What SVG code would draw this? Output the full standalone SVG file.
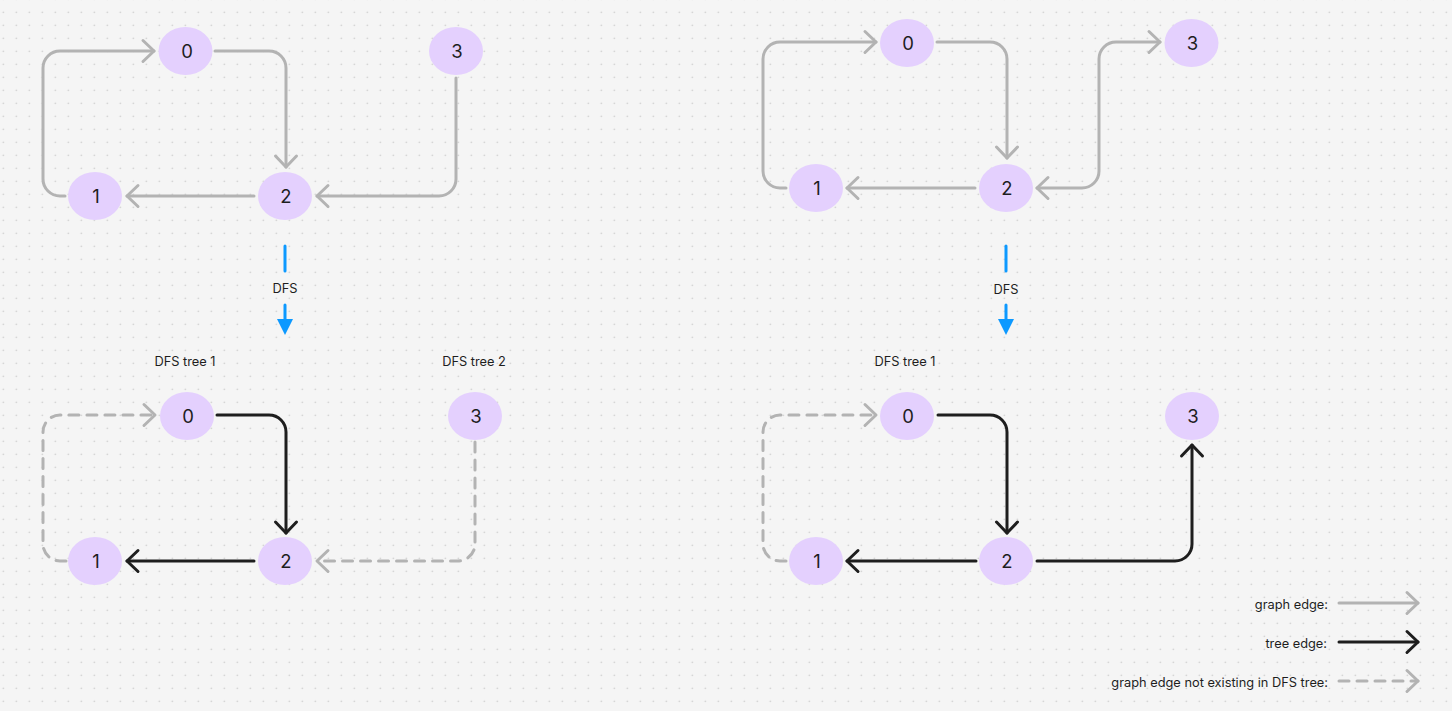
<svg xmlns="http://www.w3.org/2000/svg" width="1452" height="711" viewBox="0 0 1452 711">
<style>
.bg{fill:#f5f5f5}
.node ellipse{fill:#e4d0fe}
.node text{font-family:Inter,"Liberation Sans",sans-serif;font-size:18.5px;fill:#1e1e1e;text-anchor:middle}
.lbl{font-family:Inter,"Liberation Sans",sans-serif;font-size:12.8px;fill:#1e1e1e}
.e{fill:none;stroke-width:3;stroke-linecap:round;stroke-linejoin:round}
.g{stroke:#b3b3b3;marker-end:url(#ag)}
.k{stroke:#1e1e1e;marker-end:url(#ak)}
.d{stroke:#b3b3b3;stroke-dasharray:10 8;marker-end:url(#ag)}
.b{stroke:#0d99ff}
</style>
<defs>
<pattern id="dots" patternUnits="userSpaceOnUse" x="-3.2" y="5.8" width="13" height="13">
<circle cx="6.5" cy="6.5" r="0.8" fill="#c9c9c9"/>
</pattern>
<marker id="ag" markerUnits="userSpaceOnUse" orient="auto-start-reverse" refX="0" refY="0" markerWidth="30" markerHeight="30" viewBox="-15 -15 30 30" overflow="visible">
<path d="M-11,-10.5 L0,0 L-11,10.5" fill="none" stroke="#b3b3b3" stroke-width="3" stroke-linecap="round" stroke-linejoin="round"/>
</marker>
<marker id="ak" markerUnits="userSpaceOnUse" orient="auto" refX="0" refY="0" markerWidth="30" markerHeight="30" viewBox="-15 -15 30 30" overflow="visible">
<path d="M-11,-10.5 L0,0 L-11,10.5" fill="none" stroke="#1e1e1e" stroke-width="3" stroke-linecap="round" stroke-linejoin="round"/>
</marker>
</defs>
<rect class="bg" width="1452" height="711"/>
<rect width="1452" height="711" fill="url(#dots)"/>

<g id="connectors">
<!-- top left graph -->
<path class="e g" d="M215,51 H269 A17,17 0 0 1 286,68 V167"/>
<path class="e g" d="M254,196 H127"/>
<path class="e g" d="M65,196 H60 A17,17 0 0 1 43,179 V68 A17,17 0 0 1 60,51 H154"/>
<path class="e g" d="M456,78 V179 A17,17 0 0 1 439,196 H317"/>
<!-- bottom left tree -->
<path class="e k" d="M217,415 H269 A17,17 0 0 1 286,432 V533"/>
<path class="e k" d="M254,561 H127"/>
<path class="e d" d="M66,561 H60 A17,17 0 0 1 43,544 V432 A17,17 0 0 1 60,415 H155"/>
<path class="e d" d="M475,442 V544 A17,17 0 0 1 458,561 H317"/>
<!-- top right graph -->
<path class="e g" d="M786,188 H780 A17,17 0 0 1 763,171 V59 A17,17 0 0 1 780,42 H876"/>
<path class="e g" d="M937,42 H990 A17,17 0 0 1 1007,59 V158"/>
<path class="e g" d="M975,188 H847"/>
<path class="e g" style="marker-start:url(#ag)" d="M1037,188 H1082 A17,17 0 0 0 1099,171 V59 A17,17 0 0 1 1116,42 H1160"/>
<!-- bottom right tree -->
<path class="e d" d="M786,561 H780 A17,17 0 0 1 763,544 V432 A17,17 0 0 1 780,415 H876"/>
<path class="e k" d="M938,415 H990 A17,17 0 0 1 1007,432 V533"/>
<path class="e k" d="M976,561 H847"/>
<path class="e k" d="M1037,561 H1175 A17,17 0 0 0 1192,544 V445"/>
<!-- DFS arrows -->
<path class="e b" d="M285,246 V271"/>
<path class="e b" d="M285,305 V322"/>
<polygon points="277,319 293,319 285,335" fill="#0d99ff"/>
<path class="e b" d="M1006,246 V271"/>
<path class="e b" d="M1006,305 V322"/>
<polygon points="998,319 1014,319 1006,335" fill="#0d99ff"/>
<!-- legend -->
<path class="e g" d="M1339,603 H1418"/>
<path class="e k" d="M1339,642 H1418"/>
<path class="e d" d="M1339,681 H1418"/>
</g>

<g id="labels">
<text class="lbl" x="285" y="293" text-anchor="middle">DFS</text>
<text class="lbl" x="1006" y="294" text-anchor="middle">DFS</text>
<text class="lbl" x="185" y="366" text-anchor="middle">DFS tree 1</text>
<text class="lbl" x="474" y="366" text-anchor="middle">DFS tree 2</text>
<text class="lbl" x="905" y="366" text-anchor="middle">DFS tree 1</text>
<text class="lbl" x="1328" y="609" text-anchor="end">graph edge:</text>
<text class="lbl" x="1327" y="648" text-anchor="end">tree edge:</text>
<text class="lbl" x="1328" y="687" text-anchor="end">graph edge not existing in DFS tree:</text>
</g>

<g id="tl-0" class="node"><ellipse cx="185.5" cy="51" rx="27" ry="24"/><text x="187" y="57.7">0</text></g>
<g id="tl-1" class="node"><ellipse cx="95" cy="196" rx="27" ry="24"/><text x="96" y="202.7">1</text></g>
<g id="tl-2" class="node"><ellipse cx="285" cy="196" rx="27" ry="24"/><text x="286" y="202.7">2</text></g>
<g id="tl-3" class="node"><ellipse cx="456" cy="51" rx="27" ry="24"/><text x="457" y="57.7">3</text></g>

<g id="bl-0" class="node"><ellipse cx="187" cy="416" rx="27" ry="24"/><text x="188" y="422.7">0</text></g>
<g id="bl-1" class="node"><ellipse cx="95" cy="561" rx="27" ry="24"/><text x="96" y="567.7">1</text></g>
<g id="bl-2" class="node"><ellipse cx="285" cy="561" rx="27" ry="24"/><text x="286" y="567.7">2</text></g>
<g id="bl-3" class="node"><ellipse cx="475" cy="416" rx="27" ry="24"/><text x="476" y="422.7">3</text></g>

<g id="tr-0" class="node"><ellipse cx="907" cy="43" rx="27" ry="24"/><text x="908" y="49.7">0</text></g>
<g id="tr-1" class="node"><ellipse cx="816" cy="188" rx="27" ry="24"/><text x="817" y="194.7">1</text></g>
<g id="tr-2" class="node"><ellipse cx="1006" cy="188" rx="27" ry="24"/><text x="1007" y="194.7">2</text></g>
<g id="tr-3" class="node"><ellipse cx="1191.5" cy="43" rx="27" ry="24"/><text x="1192.5" y="49.7">3</text></g>

<g id="br-0" class="node"><ellipse cx="907" cy="416" rx="27" ry="24"/><text x="908" y="422.7">0</text></g>
<g id="br-1" class="node"><ellipse cx="816" cy="561" rx="27" ry="24"/><text x="817" y="567.7">1</text></g>
<g id="br-2" class="node"><ellipse cx="1006" cy="561" rx="27" ry="24"/><text x="1007" y="567.7">2</text></g>
<g id="br-3" class="node"><ellipse cx="1192" cy="416" rx="27" ry="24"/><text x="1193" y="422.7">3</text></g>
</svg>
